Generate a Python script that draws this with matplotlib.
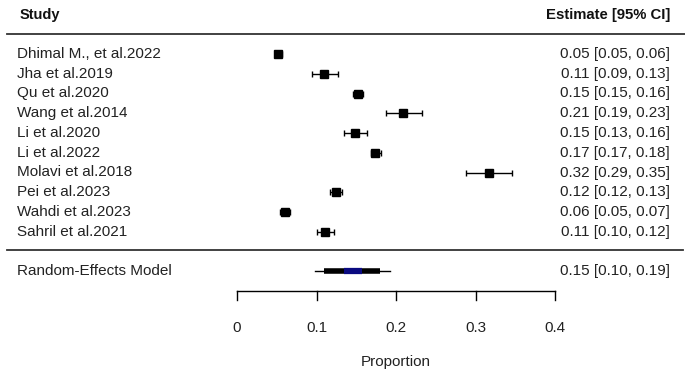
import matplotlib

matplotlib.use("Agg")
import matplotlib.pyplot as plt

studies = ["Dhimal M., et al.2022", "Jha et al.2019", "Qu et al.2020", "Wang et al.2014",
           "Li et al.2020", "Li et al.2022", "Molavi et al.2018", "Pei et al.2023",
           "Wahdi et al.2023", "Sahril et al.2021"]
est = [0.052, 0.110, 0.152, 0.209, 0.148, 0.174, 0.317, 0.124, 0.060, 0.111]
lo = [0.048, 0.094, 0.146, 0.187, 0.134, 0.168, 0.288, 0.117, 0.054, 0.101]
hi = [0.056, 0.127, 0.159, 0.233, 0.164, 0.181, 0.346, 0.132, 0.067, 0.122]

re_label = "Random-Effects Model"
re_est, re_lo, re_hi = 0.146, 0.098, 0.193
re_inner = (0.109, 0.180)
re_core = (0.134, 0.157)

xticks = [0, 0.1, 0.2, 0.3, 0.4]

plt.rcParams["font.family"] = ["Liberation Sans", "DejaVu Sans"]

W, H = 685, 381
fig = plt.figure(figsize=(W / 100, H / 100), dpi=100)
ax = fig.add_axes([0, 0, 1, 1])
ax.set_axis_off()

# pixel x = 237 + 795 * value ; rows spaced 19.75 px starting at y=54
x0, scale = 237, 795
ax.set_xlim(-x0 / scale, (W - x0) / scale)
y0, dy = 54, 19.75
ax.set_ylim((H - y0) / dy, -y0 / dy)

tx = ax.get_yaxis_transform()  # x in axes fraction, y in data
left, right = 17 / W, 670 / W
n = len(studies)

ax.text(20 / W, -2.0, "Study", transform=tx, fontsize=10.5, fontweight="bold",
        va="center", ha="left", color="#111111")
ax.text(right, -2.0, "Estimate [95% CI]", transform=tx, fontsize=10.7,
        fontweight="bold", va="center", ha="right", color="#111111")
ax.plot([7 / W, 1], [-1.03, -1.03], transform=tx, color="#333333", lw=1.3)
ax.plot([7 / W, 683 / W], [9.93, 9.93], transform=tx, color="#333333", lw=1.3)

for i, (s, e, l, h) in enumerate(zip(studies, est, lo, hi)):
    ax.errorbar(e, i, xerr=[[e - l], [h - e]], fmt="none", ecolor="black",
                elinewidth=1, capsize=2, capthick=1)
    ax.plot(e, i, marker="s", color="black", markersize=5.5)
    ax.text(left, i, s, transform=tx, fontsize=11, va="center", ha="left",
            color="#222222")
    ax.text(right, i, f"{e:.2f} [{l:.2f}, {h:.2f}]", transform=tx, fontsize=11,
            va="center", ha="right", color="#222222")

r = n + 1
ax.plot([re_lo, re_hi], [r, r], color="black", lw=1)
ax.plot(list(re_inner), [r, r], color="black", lw=4, solid_capstyle="butt")
ax.plot(list(re_core), [r, r], color="#0a0a80", lw=4.5, solid_capstyle="butt")
ax.text(left, r, re_label, transform=tx, fontsize=11, va="center", ha="left",
        color="#222222")
ax.text(right, r, f"{re_est:.2f} [{re_lo:.2f}, {re_hi:.2f}]", transform=tx,
        fontsize=11, va="center", ha="right", color="#222222")

# x axis drawn by hand in forest-plot style
ya = n + 2
ax.plot([xticks[0], xticks[-1]], [ya, ya], color="black", lw=1)
for t in xticks:
    ax.plot([t, t], [ya, ya + 0.46], color="black", lw=1)
    ax.text(t, ya + 1.85, f"{t:g}", fontsize=11, ha="center", va="center",
            color="#222222")
ax.text((xticks[0] + xticks[-1]) / 2, ya + 3.6, "Proportion", fontsize=11,
        ha="center", va="center", color="#222222")

fig.savefig("out.png", dpi=100)
